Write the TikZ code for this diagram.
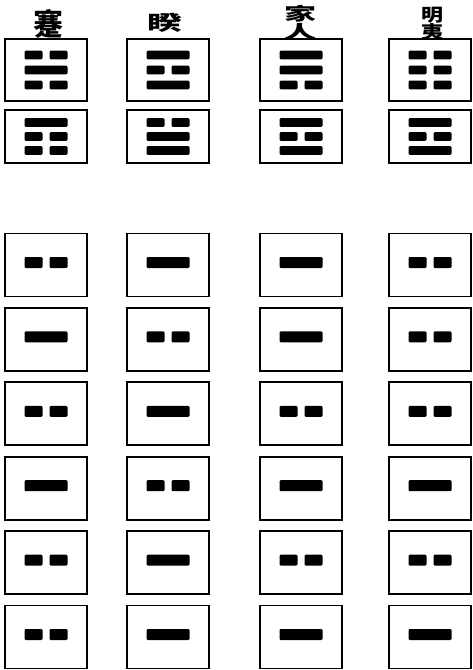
\documentclass[tikz,border=0pt]{standalone}
\usepackage{fontspec}
\usepackage{graphicx}
\newfontfamily\cjk{Noto Sans CJK TC}
\usetikzlibrary{positioning,calc}

\newcommand{\yang}[3]{\fill[yaobar] ($(#1.center)+(-21.5,#2-#3)$) rectangle ($(#1.center)+(21.5,#2+#3)$);}
\newcommand{\yin}[3]{\fill[yaobar] ($(#1.center)+(-21.5,#2-#3)$) rectangle ($(#1.center)+(-3.5,#2+#3)$);
  \fill[yaobar] ($(#1.center)+(3.5,#2-#3)$) rectangle ($(#1.center)+(21.5,#2+#3)$);}
\newcommand{\squash}[2]{\scalebox{1}[#1]{#2}}

\begin{document}
\begin{tikzpicture}[x=1pt,y=-1pt,
    guabox/.style={draw,line width=1.7pt,minimum width=82pt,inner sep=0pt},
    yaobar/.style={fill=black,rounded corners=1.2pt},
    title/.style={font=\cjk\bfseries\fontsize{30}{30}\selectfont,inner sep=0pt,align=center}]
  \fill[white] (0,0) rectangle (473,670);
  \useasboundingbox (0,0) rectangle (473,670);
  \node[title] (n1) at (49,24) {蹇};
  \node[title,font=\cjk\bfseries\fontsize{35}{35}\selectfont] (n2) at (165,23) {\squash{.58}{睽}};
  \node[title,font=\cjk\bfseries\fontsize{32}{16}\selectfont] (n3) at (300,23) {\squash{.55}{家}\\\squash{.55}{人}};
  \node[title,font=\cjk\bfseries\fontsize{22}{17}\selectfont] (n4) at (432,24) {\squash{.8}{明}\\\squash{.8}{夷}};
  \foreach \col/\cx/\ya/\yb/\yc/\yd/\ye/\yf in {1/46/0/1/0/1/0/0,2/168/1/0/1/0/1/1,3/301/1/1/0/1/0/1,4/430/0/0/0/1/0/1}{
    \node[guabox,minimum height=62pt] (u\col) at (\cx,70) {};
    \node[guabox,minimum height=53pt] (l\col) at (\cx,136.5) {};
    \foreach \v [count=\k] in {\ya,\yb,\yc,\yd,\ye,\yf}{
      \node[guabox,minimum height=63pt] (y\col-\k) at (\cx,{265+74.4*(\k-1)}) {};
      \ifnum\k<4 \edef\tb{u\col}\pgfmathsetmacro\dy{(\k-2)*15}\else\edef\tb{l\col}\pgfmathsetmacro\dy{(\k-5)*14}\fi
      \ifnum\v=1 \yang{\tb}{\dy}{4.3}\yang{y\col-\k}{-2.5}{5.5}\else\yin{\tb}{\dy}{4.3}\yin{y\col-\k}{-2.5}{5.5}\fi
    }
  }
\end{tikzpicture}
\end{document}
